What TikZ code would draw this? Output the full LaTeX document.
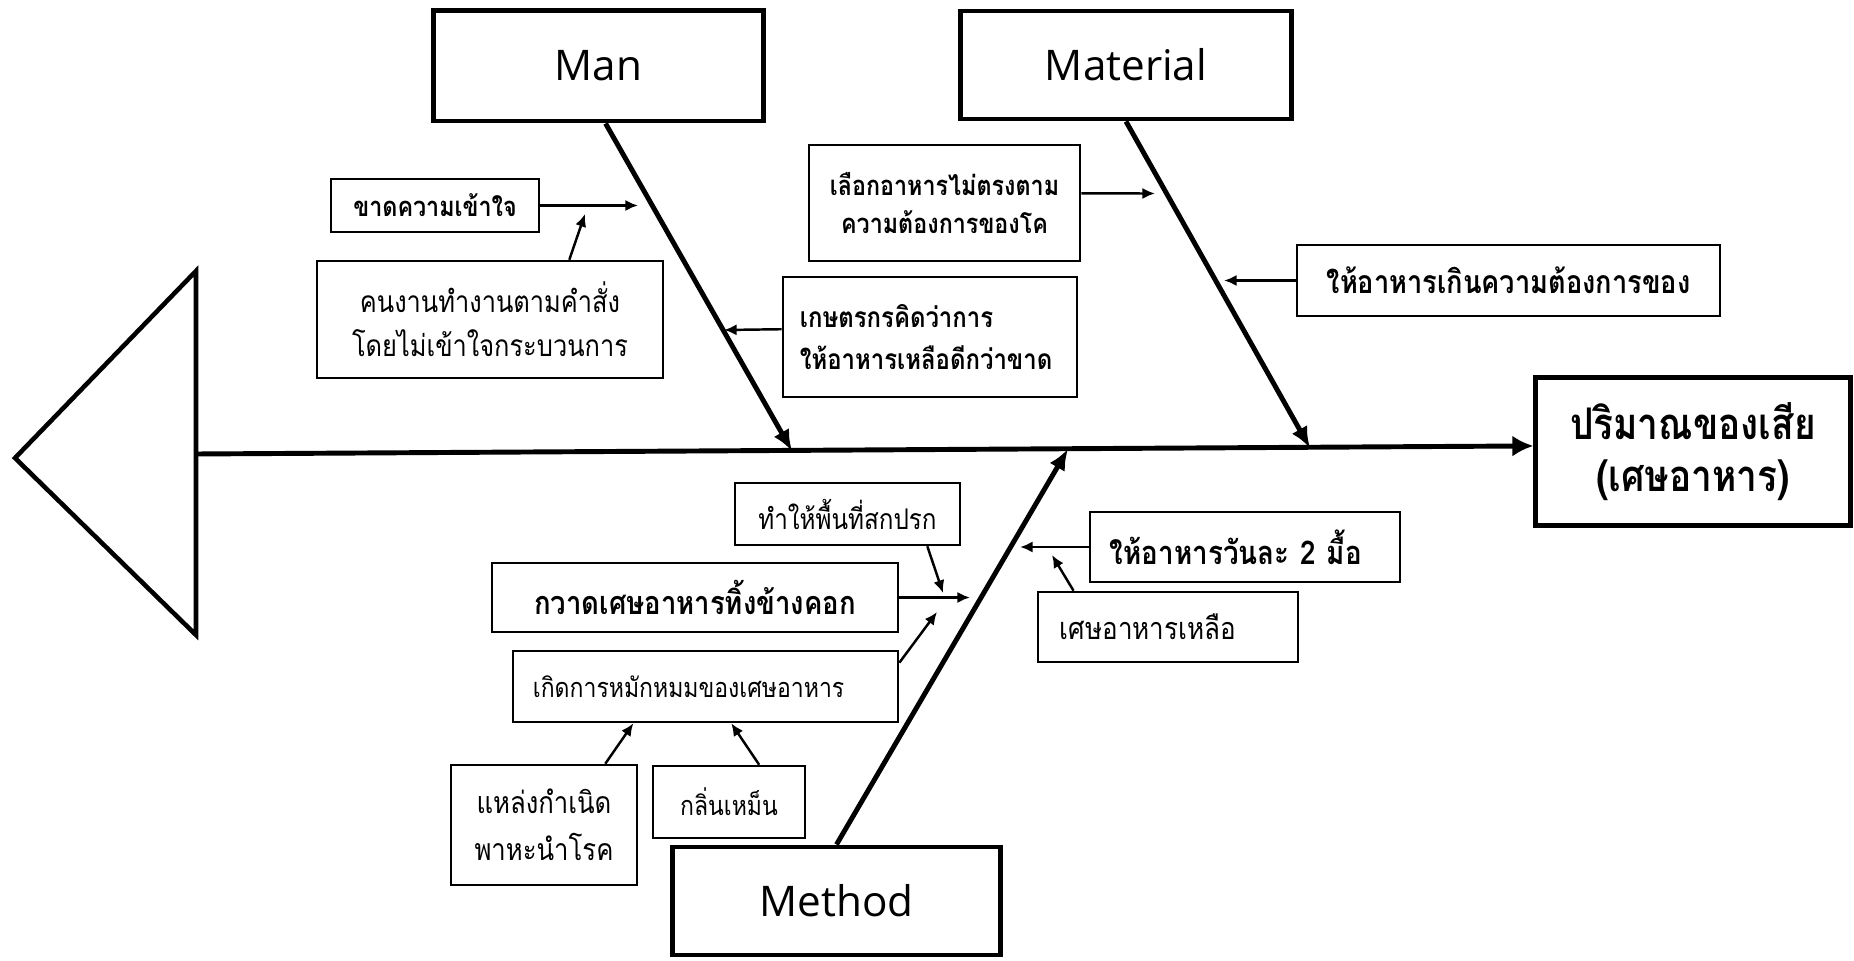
\documentclass[tikz,border=0pt]{standalone}
\usepackage{fontspec}
\setmainfont[Script=Thai,FakeStretch=0.85]{Loma}
\newfontfamily\headfont{Open Sans}
\usetikzlibrary{arrows.meta}

\begin{document}
\begin{tikzpicture}[x=0.01cm,y=-0.01cm,
  bigbox/.style={draw,line width=1.4pt,inner sep=0pt,align=center},
  smallbox/.style={draw,line width=0.7pt,inner sep=0pt,align=center},
  bone/.style={line width=1.4pt,-{Latex[length=6pt,width=5pt]}},
  cause/.style={line width=0.7pt,-{Latex[length=3.6pt,width=3.2pt]}}]
\useasboundingbox (0,0) rectangle (1854,961);

% fish head and spine
\draw[line width=1.3pt,line join=miter] (196,271) -- (15,458) -- (196,635) -- cycle;
\coordinate (tail) at (196,454);
\node[bigbox,minimum width=3.14cm,minimum height=1.47cm,font=\fontsize{12.4}{15}\selectfont\bfseries] (effect) at (1693,451.5) {ปริมาณของเสีย\\(เศษอาหาร)};
\draw[line width=1.4pt,-{Latex[length=6pt,width=6pt]}] (tail) -- (effect.178);

% main categories
\node[bigbox,minimum width=3.29cm,minimum height=1.10cm,font=\headfont\fontsize{12}{14}\selectfont] (man) at (598.5,66) {Man};
\node[bigbox,minimum width=3.30cm,minimum height=1.08cm,font=\headfont\fontsize{12}{14}\selectfont] (material) at (1126,65) {Material};
\node[bigbox,minimum width=3.27cm,minimum height=1.08cm,font=\headfont\fontsize{12}{14}\selectfont] (method) at (836.5,901) {Method};

\coordinate (mantip) at (792,451);
\coordinate (materialtip) at (1310,448);
\coordinate (methodtip) at (1068,449);
\draw[bone] (man.-83) -- (mantip);
\draw[bone] (material.south) -- (materialtip);
\draw[bone] (method.north) -- (methodtip);

% man
\node[smallbox,minimum width=2.08cm,minimum height=0.53cm,font=\fontsize{7.8}{10}\selectfont\bfseries] (lack) at (435,205.5) {ขาดความเข้าใจ};
\node[smallbox,minimum width=3.46cm,minimum height=1.17cm,font=\fontsize{8.5}{12.5}\selectfont] (worker) at (490,319.5) {คนงานทำงานตามคำสั่ง\\โดยไม่เข้าใจกระบวนการ};
\coordinate (m1) at (638,205.5);
\coordinate (m2) at (585,214);
\draw[cause] (lack.east) -- (m1);
\draw[cause] (worker.37) -- (m2);

% material
\node[smallbox,minimum width=2.71cm,minimum height=1.16cm,font=\fontsize{7.8}{10.8}\selectfont\bfseries] (choose) at (944.5,203) {เลือกอาหารไม่ตรงตาม\\ความต้องการของโค};
\node[smallbox,inner xsep=0.17cm,text width=2.60cm,align=left,minimum height=1.20cm,font=\fontsize{8}{11.7}\selectfont\bfseries] (farmer) at (930,337) {เกษตรกรคิดว่าการ\\ให้อาหารเหลือดีกว่าขาด};
\node[smallbox,minimum width=4.23cm,minimum height=0.71cm,font=\fontsize{9.1}{11}\selectfont\bfseries] (overfeed) at (1508.5,280.5) {ให้อาหารเกินความต้องการของ};
\coordinate (m3) at (1155,193.5);
\coordinate (m4) at (724,330);
\coordinate (m5) at (1224,280.5);
\draw[cause] (choose.4) -- (m3);
\draw[cause] (farmer.177) -- (m4);
\draw[cause] (overfeed.west) -- (m5);

% method
\node[smallbox,minimum width=2.25cm,minimum height=0.62cm,font=\fontsize{8.1}{10}\selectfont] (dirty) at (847.5,514) {ทำให้พื้นที่สกปรก};
\node[smallbox,minimum width=4.06cm,minimum height=0.69cm,font=\fontsize{9.2}{12}\selectfont\bfseries] (sweep) at (695,597.5) {กวาดเศษอาหารทิ้งข้างคอก};
\node[smallbox,inner xsep=0.2cm,text width=3.45cm,align=left,minimum height=0.71cm,font=\fontsize{7.7}{10}\selectfont] (ferment) at (705.5,686.5) {เกิดการหมักหมมของเศษอาหาร};
\node[smallbox,minimum width=1.86cm,minimum height=1.20cm,font=\fontsize{8.6}{13.4}\selectfont] (source) at (544,825) {แหล่งกำเนิด\\พาหะนำโรค};
\node[smallbox,minimum width=1.52cm,minimum height=0.72cm,font=\fontsize{7.7}{10}\selectfont] (smell) at (729,802) {กลิ่นเหม็น};
\node[smallbox,inner xsep=0.2cm,text width=2.70cm,align=left,minimum height=0.70cm,font=\fontsize{9.3}{11}\selectfont\bfseries] (twomeal) at (1245,547) {ให้อาหารวันละ 2 มื้อ};
\node[smallbox,inner xsep=0.22cm,text width=2.16cm,align=left,minimum height=0.70cm,font=\fontsize{8.7}{11}\selectfont] (leftover) at (1168,627) {เศษอาหารเหลือ};
\coordinate (m6) at (943,593);
\coordinate (m7) at (970,597.5);
\coordinate (m8) at (937,612);
\coordinate (m9) at (1020,547);
\coordinate (m10) at (1052,555);
\draw[cause] (dirty.-22) -- (m6);
\draw[cause] (sweep.east) -- (m7);
\draw[cause] (ferment.7) -- (m8);
\draw[cause] (source.45) -- (ferment.-153);
\draw[cause] (smell.51) -- (ferment.-55);
\draw[cause] (twomeal.west) -- (m9);
\draw[cause] (leftover.159) -- (m10);

\end{tikzpicture}
\end{document}
